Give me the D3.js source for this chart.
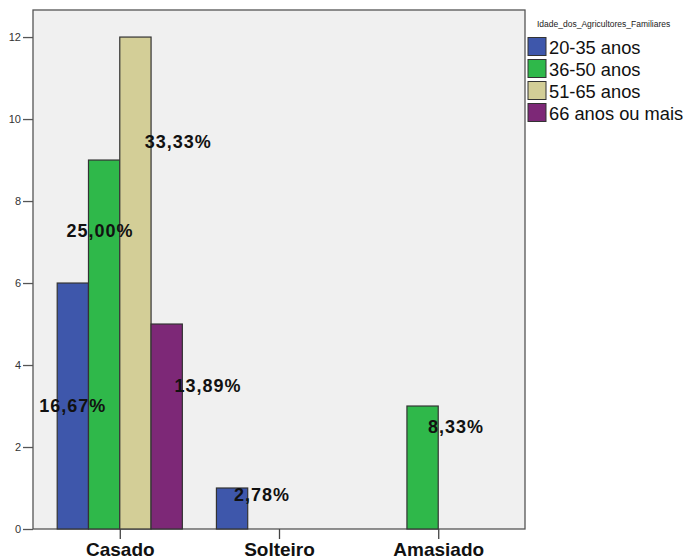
<!DOCTYPE html>
<html>
<head>
<meta charset="utf-8">
<script src="https://cdn.jsdelivr.net/npm/d3@7"></script>
<style>
  body { margin: 0; background: #fff; }
  svg text { font-family: "Liberation Sans", Arial, sans-serif; }
</style>
</head>
<body>
<svg id="chart"></svg>
<script>
// categories / series / counts
var categories = ["Casado", "Solteiro", "Amasiado"]
var series = ["20-35 anos", "36-50 anos", "51-65 anos", "66 anos ou mais"]
var colors = ["#3e57ab", "#2fb84a", "#d3ce97", "#7d2877"]
var counts = [
    [6, 9, 12, 5],   // Casado
    [1, 0, 0, 0],    // Solteiro
    [0, 3, 0, 0]     // Amasiado
]
var yTicks = [0, 2, 4, 6, 8, 10, 12]
var legendTitle = "Idade_dos_Agricultores_Familiares"

// where SPSS dropped each percent label: [category, series, value-height, shift in bar widths]
var labelSpots = [
    [0, 0, 3.0, 0],
    [0, 1, 7.28, -0.13],
    [0, 2, 9.45, 1.37],
    [0, 3, 3.5, 1.32],
    [1, 0, 0.82, 0.96],
    [2, 1, 2.48, 1.07]
]

function drawChart(){
    var svg = d3.select("#chart")
       .attr("width", 687)
       .attr("height", 559)

    var plot = {left: 33, right: 525, top: 10, bottom: 529}

    var total = d3.sum(counts.flat())

    var x = d3.scalePoint()
              .domain(categories)
              .range([plot.left, plot.right])
              .padding(0.545)

    var groupW = x.step() * 0.786
    var xs = d3.scaleBand()
               .domain(series)
               .range([-groupW / 2, groupW / 2])

    var y = d3.scaleLinear()
              .domain([0, 12.66])
              .range([plot.bottom, plot.top])

    // plot background
    svg.append("rect")
       .attr("x", plot.left)
       .attr("y", plot.top)
       .attr("width", plot.right - plot.left)
       .attr("height", plot.bottom - plot.top)
       .attr("fill", "#f0f0f0")
       .attr("stroke", "#555")
       .attr("stroke-width", 1.3)

    // bars
    var bars = []
    counts.forEach((row, ci) => {
        row.forEach((v, si) => {
            if (v > 0) bars.push({cat: categories[ci], ser: series[si], si: si, v: v})
        })
    })
    svg.append("g")
       .selectAll("rect")
       .data(bars)
       .join("rect")
       .attr("x", d => x(d.cat) + xs(d.ser))
       .attr("y", d => y(d.v))
       .attr("width", xs.bandwidth())
       .attr("height", d => y(0) - y(d.v))
       .attr("fill", d => colors[d.si])
       .attr("stroke", "#333")
       .attr("stroke-width", 1.2)

    // y axis
    var yAxis = svg.append("g")
       .attr("transform", `translate(${plot.left},0)`)
       .call(d3.axisLeft(y).tickValues(yTicks).tickSize(10).tickPadding(2))
    yAxis.select(".domain").remove()
    yAxis.selectAll("line").attr("stroke", "#555").attr("stroke-width", 1.3)
    yAxis.selectAll("text").attr("font-size", 11).attr("fill", "#333")
         .style("font-family", "'Liberation Sans', Arial, sans-serif")

    // x axis
    var xAxis = svg.append("g")
       .attr("transform", `translate(0,${plot.bottom})`)
       .call(d3.axisBottom(x).tickSize(10).tickPadding(4))
    xAxis.select(".domain").remove()
    xAxis.selectAll("line").attr("stroke", "#444").attr("stroke-width", 1.3)
    xAxis.selectAll("text")
         .attr("font-size", 19)
         .attr("font-weight", "bold")
         .attr("fill", "#111")
         .style("font-family", "'Liberation Sans', Arial, sans-serif")

    // percent labels
    svg.append("g")
       .selectAll("text")
       .data(labelSpots)
       .join("text")
       .attr("x", d => x(categories[d[0]]) + xs(series[d[1]]) + xs.bandwidth() * (0.5 + d[3]))
       .attr("y", d => y(d[2]))
       .attr("text-anchor", "middle")
       .attr("dominant-baseline", "central")
       .attr("font-size", 18)
       .attr("font-weight", "bold")
       .attr("letter-spacing", 1)
       .attr("fill", "#111")
       .text(d => (counts[d[0]][d[1]] / total * 100).toFixed(2).replace(".", ",") + "%")

    // legend
    var legend = svg.append("g").attr("transform", "translate(528,0)")
    legend.append("text")
          .attr("x", 9)
          .attr("y", 27)
          .attr("font-size", 8.5)
          .attr("fill", "#222")
          .text(legendTitle)
    var rows = legend.selectAll(".row")
          .data(series)
          .join("g")
          .attr("transform", (d, i) => `translate(0,${37.5 + i * 22})`)
    rows.append("rect")
        .attr("width", 18)
        .attr("height", 18)
        .attr("fill", (d, i) => colors[i])
        .attr("stroke", "#333")
        .attr("stroke-width", 1)
    rows.append("text")
        .attr("x", 21)
        .attr("y", 16.5)
        .attr("font-size", 18.3)
        .attr("fill", "#111")
        .text(d => d)
}

drawChart()
</script>
</body>
</html>
